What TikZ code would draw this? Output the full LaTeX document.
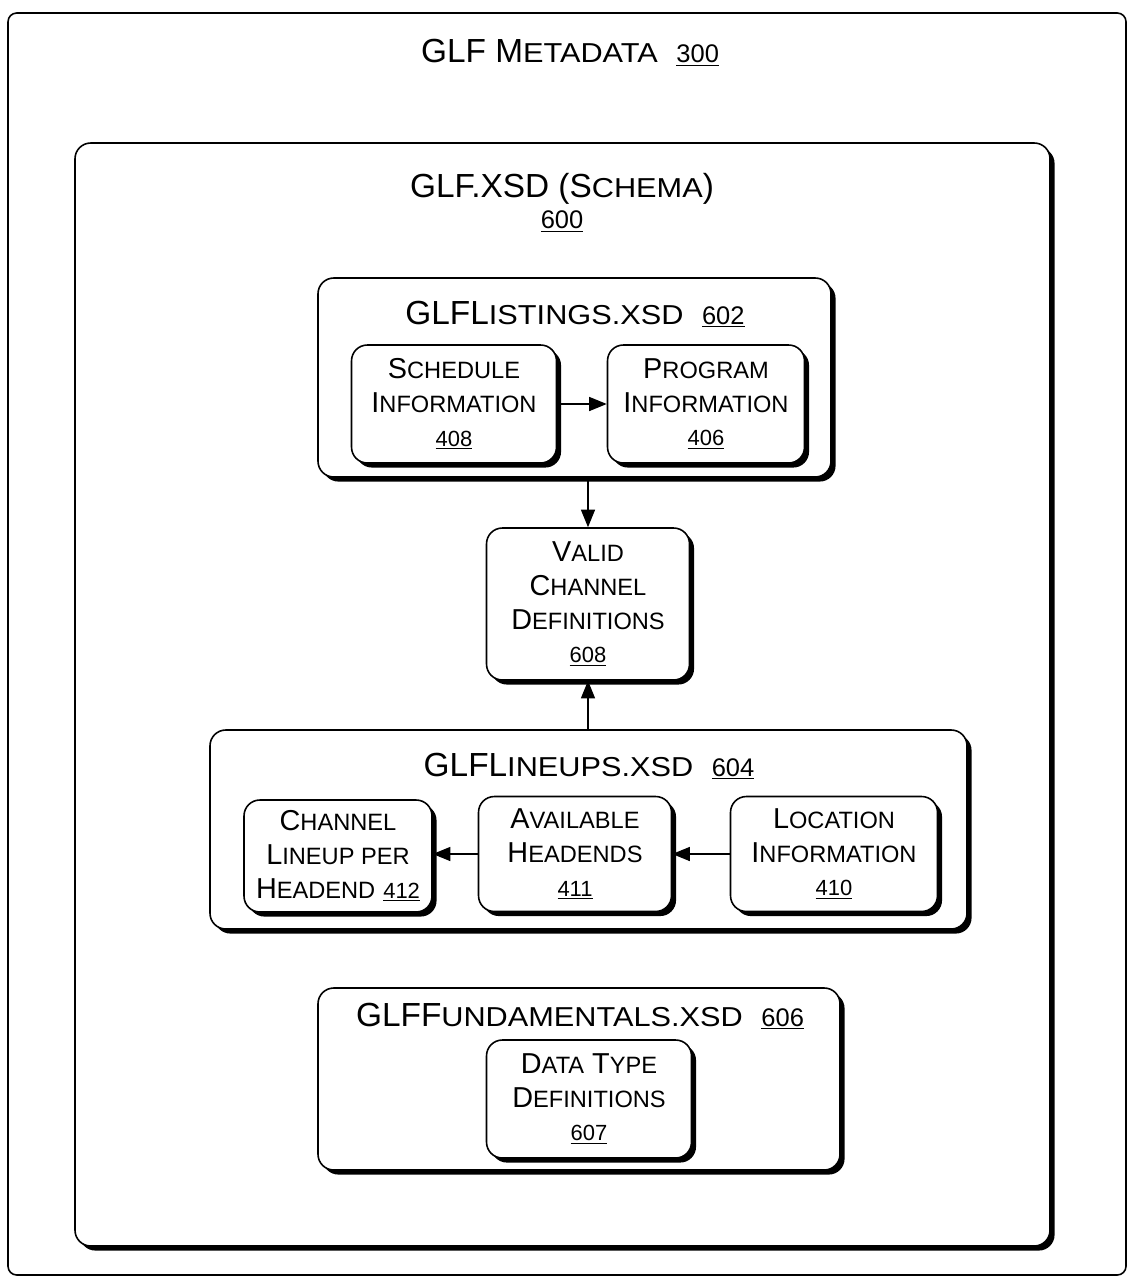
\documentclass[tikz,border=0pt]{standalone}
\usepackage{fontspec}
\setmainfont{Liberation Sans}
\usepackage{graphicx}
\usetikzlibrary{arrows.meta, positioning, fit, shadows}

\newcommand{\schs}{0.82}
\newcommand{\smc}[1]{\scalebox{\schs}[0.82]{#1}}
\newcommand{\refno}[1]{{\fontsize{12.5}{14}\selectfont\underline{#1}}}
\newcommand{\titleno}[1]{{\fontsize{14.5}{16}\selectfont\underline{#1}}}
\newcommand{\titlefont}{\fontsize{19}{22}\selectfont\renewcommand{\schs}{0.92}}
\newcommand{\boxfont}{\fontsize{16.4}{19.3}\selectfont}

\begin{document}
\begin{tikzpicture}[
    x=0.02cm, y=-0.02cm,
    every node/.style={align=center},
    outerbox/.style={draw, line width=0.9pt, rounded corners=5pt, inner sep=0pt},
    group/.style={draw, fill=white, line width=0.9pt, rounded corners=9pt, inner sep=0pt,
        drop shadow={shadow xshift=2.6pt, shadow yshift=-2.6pt, fill=black, opacity=1}},
    blk/.style={group, font=\boxfont, minimum height=2.36cm},
    title/.style={font=\titlefont, anchor=base, inner sep=0pt},
    arrow/.style={-{Triangle[length=10pt, width=8pt]}, line width=0.7pt},
]
\useasboundingbox (0,0) rectangle (1128,1277);

% --- Outer frame and schema box
\node[outerbox, fit={(8,13) (1126,1275)}] (meta) {};
\node[title] (metatitle) at (570,63) {GLF M\smc{ETADATA}\ \ \titleno{300}};

\node[group, fit={(75,143) (1050,1246)}] (schema) {};
\node[title] (schematitle) at (562,197) {GLF.XSD (S\smc{CHEMA})};
\node[title] (schemano) at (562,229) {\titleno{600}};

% --- GLFListings
\node[group, fit={(318,278) (831,477)}] (listings) {};
\node[title] (listingstitle) at (575,324) {GLFL\smc{ISTINGS.XSD}\ \ \titleno{602}};
\node[blk, minimum width=4.1cm]  (sched) at (454,404) {S\smc{CHEDULE}\\I\smc{NFORMATION}\\\refno{408}};
\node[blk, minimum width=3.94cm] (prog)  at (706,404) {P\smc{ROGRAM}\\I\smc{NFORMATION}\\\refno{406}};

% --- Valid channel definitions
\node[blk, minimum width=4.06cm, minimum height=3.04cm] (valid) at (588,604)
    {V\smc{ALID}\\C\smc{HANNEL}\\D\smc{EFINITIONS}\\\refno{608}};

% --- GLFLineups
\node[group, fit={(210,730) (967,929)}] (lineups) {};
\node[title] (lineupstitle) at (589,776) {GLFL\smc{INEUPS.XSD}\ \ \titleno{604}};
\node[blk, minimum width=3.76cm, minimum height=2.24cm] (chan)  at (338,856) {C\smc{HANNEL}\\L\smc{INEUP PER}\\H\smc{EADEND}\ \refno{412}};
\node[blk, minimum width=3.86cm, minimum height=2.3cm]  (avail) at (575,854) {A\smc{VAILABLE}\\H\smc{EADENDS}\\\refno{411}};
\node[blk, minimum width=4.14cm, minimum height=2.3cm]  (loc)   at (834,854) {L\smc{OCATION}\\I\smc{NFORMATION}\\\refno{410}};

% --- GLFFundamentals
\node[group, fit={(318,988) (840,1170)}] (fund) {};
\node[title] (fundtitle) at (580,1026) {GLFF\smc{UNDAMENTALS.XSD}\ \ \titleno{606}};
\node[blk, minimum width=4.1cm] (dtype) at (589,1099) {D\smc{ATA} T\smc{YPE}\\D\smc{EFINITIONS}\\\refno{607}};

% --- Arrows
\draw[arrow] (sched) -- (prog);
\draw[arrow] (listings.south -| valid) -- (valid.north);
\draw[arrow] (lineups.north -| valid) -- (valid.south);
\draw[arrow] (loc) -- (avail);
\draw[arrow] (avail.west) -- (avail.west -| chan.east);

\end{tikzpicture}
\end{document}
